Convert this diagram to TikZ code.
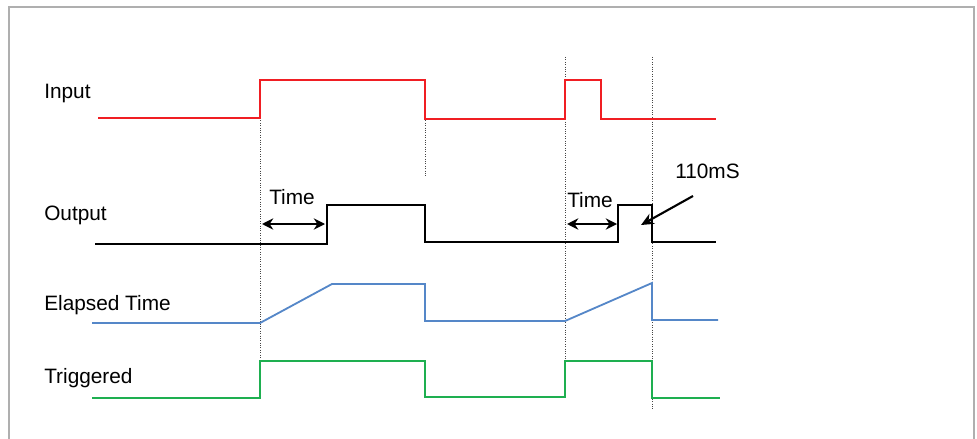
\documentclass[tikz,border=0pt]{standalone}
\usepackage{fontspec}
\setmainfont{Liberation Sans}
\usepackage{tikz}
\usetikzlibrary{arrows.meta, positioning}

\definecolor{sigred}{RGB}{240,30,35}
\definecolor{sigblue}{RGB}{85,135,200}
\definecolor{siggreen}{RGB}{30,175,80}
\definecolor{framegray}{RGB}{175,175,175}

\begin{document}
\begin{tikzpicture}[
  x=0.025cm, y=-0.025cm,
  lbl/.style={anchor=base west, inner sep=0pt, font=\fontsize{14.8}{17}\selectfont},
  sig/.style={line width=1.3pt, line join=miter},
  marker/.style={gray!55!black, densely dotted, line width=0.7pt},
  arr/.style={{Stealth[length=8pt,width=8pt]}-{Stealth[length=8pt,width=8pt]}, line width=1.5pt},
  pointer/.style={-{Stealth[length=9pt,width=8pt]}, line width=1.5pt}
]
\useasboundingbox (0,0) rectangle (977,439);
\draw[framegray, line width=1.1pt] (9,450) -- (9,7) -- (974,7) -- (974,450);

% signal names
\node[lbl] (in)  at (44,99)  {Input};
\node[lbl] (out) at (44,220) {Output};
\node[lbl] (el)  at (44,310) {Elapsed Time};
\node[lbl] (tr)  at (44,383) {Triggered};

% event markers
\draw[marker] (260,118) -- (260,358);
\draw[marker] (425,118) -- (425,176);
\draw[marker] (565,57) -- (565,360);
\draw[marker] (652,57) -- (652,410);

% waveforms
\draw[sig, sigred] (98,118) -- (260,118) -- (260,80) -- (425,80) -- (425,119)
  -- (565,119) -- (565,80) -- (601,80) -- (601,119) -- (716,119);
\draw[sig, black] (95,244) -- (327,244) -- (327,205) -- (425,205) -- (425,242)
  -- (618,242) -- (618,205) -- (652,205) -- (652,242) -- (716,242);
\draw[sig, sigblue] (92,323) -- (260,323) -- (332,284) -- (425,284) -- (425,321)
  -- (565,321) -- (652,283) -- (652,320) -- (718,320);
\draw[sig, siggreen] (92,398) -- (260,398) -- (260,361) -- (425,361) -- (425,397)
  -- (565,397) -- (565,361) -- (652,361) -- (652,398) -- (720,398);

% delays
\coordinate (t1a) at (262,224);
\coordinate (t1b) at (325,224);
\coordinate (t2a) at (567,224);
\coordinate (t2b) at (617,224);
\draw[arr] (t1a) -- (t1b);
\draw[arr] (t2a) -- (t2b);
\node[lbl] (time1) at (269,204) {Time};
\node[lbl] (time2) at (567,207) {Time};

\node[lbl] (pulse) at (675,179) {110mS};
\coordinate (ptip) at (641,225);
\draw[pointer] (693,196) -- (ptip);

\end{tikzpicture}
\end{document}
